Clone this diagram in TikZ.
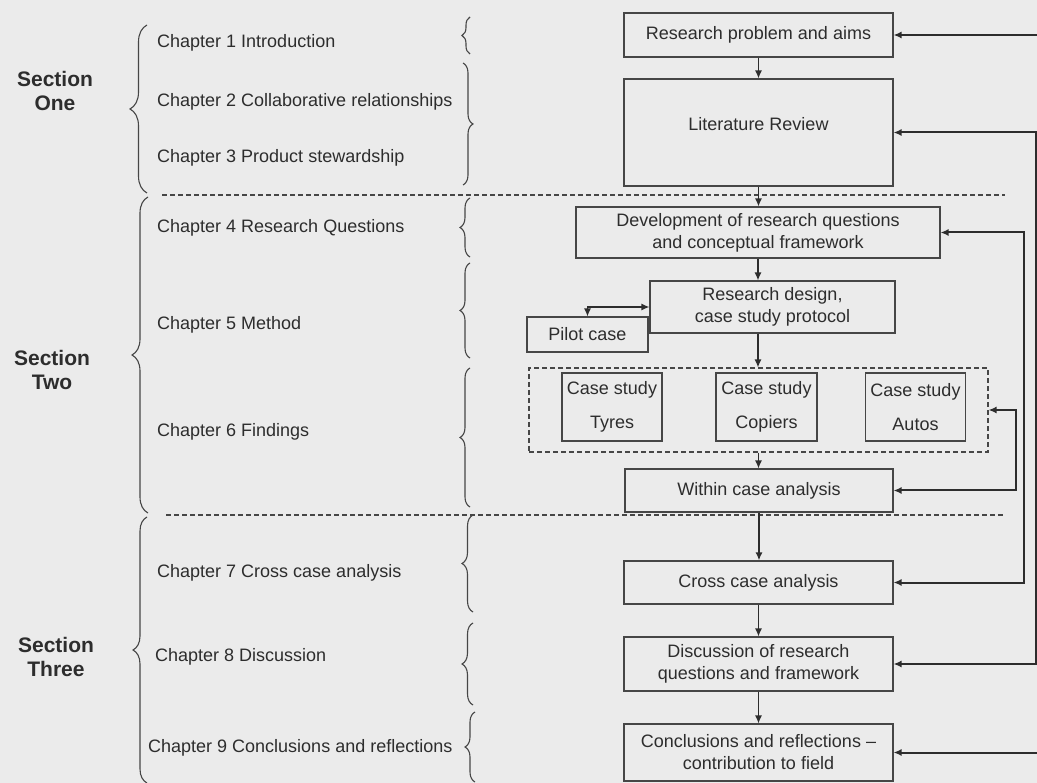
\documentclass[tikz,border=0pt]{standalone}
\usepackage{fontspec}
\setmainfont{Liberation Sans}
\usetikzlibrary{arrows.meta,decorations.pathreplacing,calc}
\definecolor{bg}{RGB}{235,235,235}
\definecolor{ink}{RGB}{45,45,45}
\definecolor{rule}{RGB}{70,70,70}

\begin{document}
\begin{tikzpicture}[x=1pt,y=-1pt,
  every node/.style={font=\fontsize{18}{22}\selectfont, text=ink},
  box/.style={draw=rule, line width=1.1pt, inner sep=1pt, align=center},
  group/.style={draw=rule, line width=1.1pt, dash pattern=on 5pt off 3pt},
  chap/.style={anchor=west, inner sep=0pt},
  sect/.style={align=center, font=\fontsize{21}{24}\selectfont\bfseries, inner sep=0pt},
  tip/.style={Latex[length=8pt,width=7pt]},
  arr/.style={draw=ink, line width=1.4pt, -{Latex[length=8pt,width=7pt]}},
  fb/.style={draw=ink, line width=2pt, {Latex[length=8pt,width=7pt]}-{Latex[length=8pt,width=7pt]}},
  fbin/.style={draw=ink, line width=2pt, {Latex[length=8pt,width=7pt]}-},
  sep/.style={draw=rule, line width=1.1pt, dash pattern=on 5pt off 3pt},
  brc/.style={draw=rule, line width=1.1pt, decorate, decoration={brace, amplitude=#1}}
]
% page and background
\useasboundingbox (0,0) rectangle (1037,783);
\fill[bg] (0,0) rectangle (1037,783);

% section separators
\draw[sep] (162,195) -- (1005,195);
\draw[sep] (166,515) -- (1005,515);

% section labels and their braces
\node[sect] (s1) at (55,91) {Section\\One};
\node[sect] (s2) at (52,370) {Section\\Two};
\node[sect] (s3) at (56,657) {Section\\Three};
\draw[brc=17] (147,193) -- (147,25);
\draw[brc=16] (148,513) -- (148,197);
\draw[brc=14] (147,783) -- (147,517);

% chapter labels
\node[chap] (ch1) at (157,43) {Chapter 1 Introduction};
\node[chap] (ch2) at (157,102) {Chapter 2 Collaborative relationships};
\node[chap] (ch3) at (157,158) {Chapter 3 Product stewardship};
\node[chap] (ch4) at (157,228) {Chapter 4 Research Questions};
\node[chap] (ch5) at (157,325) {Chapter 5 Method};
\node[chap] (ch6) at (157,432) {Chapter 6 Findings};
\node[chap] (ch7) at (157,573) {Chapter 7 Cross case analysis};
\node[chap] (ch8) at (155,657) {Chapter 8 Discussion};
\node[chap] (ch9) at (148,748) {Chapter 9 Conclusions and reflections};

% chapter braces
\draw[brc=8]  (470,54)  -- (470,17);
\draw[brc=10] (463,63)  -- (463,185);
\draw[brc=10] (470,257) -- (470,198);
\draw[brc=10] (470,358) -- (470,263);
\draw[brc=10] (470,507) -- (470,368);
\draw[brc=11] (473,612) -- (473,515);
\draw[brc=11] (473,705) -- (473,623);
\draw[brc=10] (475,782) -- (475,712);

% process boxes
\node[box, minimum width=269pt, minimum height=44pt] (rp) at (758.5,35) {Research problem and aims};
\node[box, minimum width=269pt, minimum height=107pt] (lit) at (758.5,132.5) {Literature Review\\[-4pt]\mbox{}};
\node[box, minimum width=364pt, minimum height=51pt] (dev) at (758,232.5) {Development of research questions\\and conceptual framework};
\node[box, minimum width=245pt, minimum height=52pt] (des) at (772.5,307) {Research design,\\case study protocol};
\node[box, minimum width=121pt, minimum height=35pt] (pilot) at (587.5,334.5) {Pilot case};
\node[group, minimum width=459pt, minimum height=84pt, inner sep=0pt] (cases) at (758.5,410) {};
\node[box, minimum width=100pt, minimum height=68pt] (tyres) at (612,407) {Case study\\[12pt]Tyres};
\node[box, minimum width=101pt, minimum height=68pt] (copiers) at (766.5,407) {Case study\\[12pt]Copiers};
\node[box, minimum width=100pt, minimum height=68pt] (autos) at (915.5,407) {Case study\\[12pt]Autos};
\node[box, minimum width=268pt, minimum height=43pt] (within) at (759,490.5) {Within case analysis};
\node[box, minimum width=269pt, minimum height=43pt] (cross) at (758.5,582.5) {Cross case analysis};
\node[box, minimum width=269pt, minimum height=54pt] (disc) at (758.5,664) {Discussion of research\\questions and framework};
\node[box, minimum width=269pt, minimum height=57pt] (concl) at (758.5,752.5) {Conclusions and reflections --\\contribution to field};

% main flow
\draw[arr] (rp.south) -- (rp.south |- lit.north);
\draw[arr] (lit.south) -- (lit.south |- dev.north);
\draw[arr] (dev.south) -- (dev.south |- des.north);
\draw[arr] (dev.south |- des.south) -- (dev.south |- cases.north);
\draw[arr] (cases.south) -- (cases.south |- within.north);
\draw[arr, line width=2pt] (within.south) -- (within.south |- cross.north);
\draw[arr] (cross.south) -- (cross.south |- disc.north);
\draw[arr] (disc.south) -- (disc.south |- concl.north);
\draw[draw=ink, line width=1.4pt, {Latex[length=8pt,width=7pt]}-{Latex[length=8pt,width=7pt]}] (pilot.north) |- (des.west);

% feedback loops on the right
\coordinate (railA) at (1036,0);
\coordinate (railB) at (1024,0);
\coordinate (railC) at (1016,0);
\coordinate (outTop) at (1037,34);
\coordinate (outBot) at (1037,754);
\draw[fbin] (rp.east) -- (rp.east -| outTop);
\draw[fbin] (concl.east) -- (concl.east -| outBot);
\draw[fb] (lit.east) -- (lit.east -| railA) -- (disc.east -| railA) -- (disc.east);
\draw[fb] (dev.east) -- (dev.east -| railB) -- (cross.east -| railB) -- (cross.east);
\draw[fb] (cases.east) -- (cases.east -| railC) -- (within.east -| railC) -- (within.east);
\end{tikzpicture}
\end{document}
